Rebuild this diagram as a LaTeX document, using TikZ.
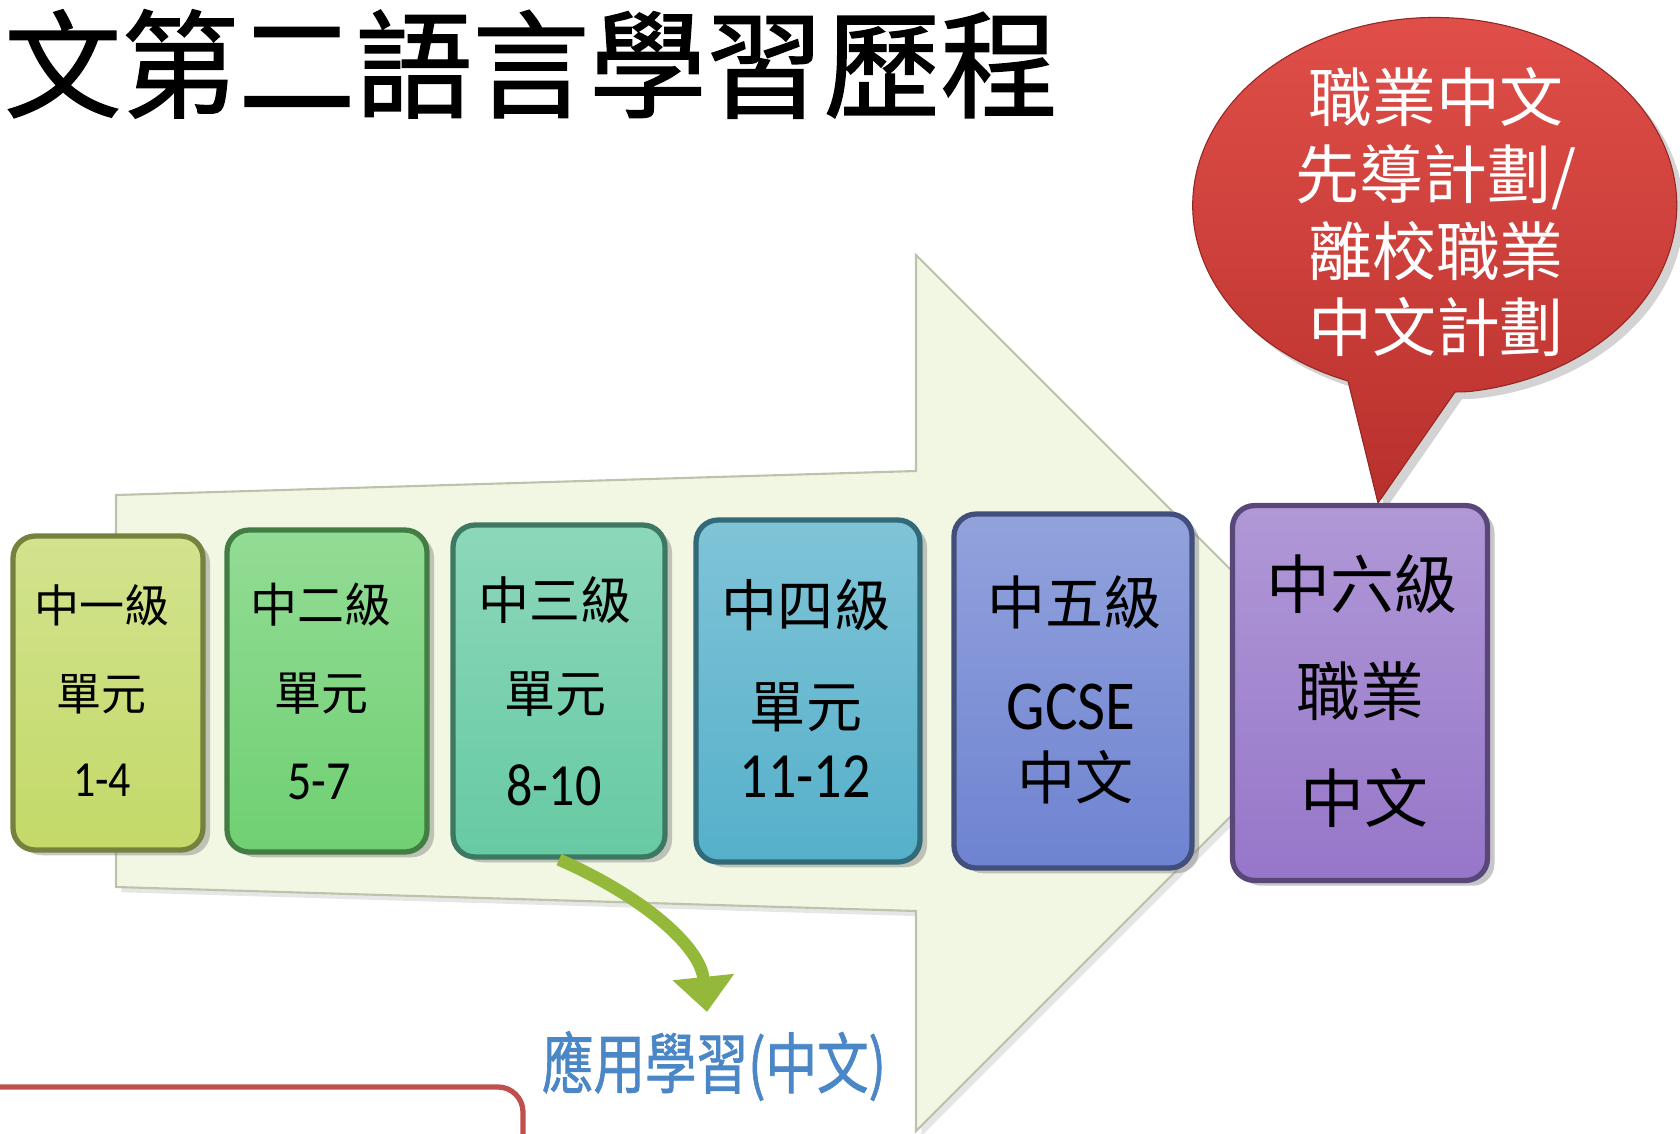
\documentclass[tikz,border=0pt]{standalone}
\usepackage{fontspec}
\usepackage{tikz}
\usetikzlibrary{shadows}
\usetikzlibrary{arrows.meta}
\newfontfamily\cjk{Noto Sans CJK TC}
\newfontfamily\cjkheavy[FakeBold=1.2]{Noto Sans CJK TC}
\newfontfamily\numfont{Carlito}
\definecolor{arrowpale}{HTML}{F2F7E3}
\definecolor{arrowedge}{HTML}{BCC3AA}
\definecolor{lvA}{HTML}{C3D968}
\definecolor{lvB}{HTML}{6FD072}
\definecolor{lvC}{HTML}{66CAA3}
\definecolor{lvD}{HTML}{55B0CA}
\definecolor{lvE}{HTML}{6E83D1}
\definecolor{lvF}{HTML}{9676C9}
\definecolor{bubtop}{HTML}{E2504A}
\definecolor{bubbot}{HTML}{B8302C}
\definecolor{applgreen}{HTML}{93B83A}
\definecolor{applblue}{HTML}{4B86C6}
\definecolor{framered}{HTML}{C0504D}
\tikzset{stagebox/.style={rounded corners=0.44cm, line width=3pt,
   drop shadow={shadow xshift=4pt, shadow yshift=-3pt, opacity=.45}},
 lvtext/.style={inner sep=0pt, text=black},
 bigarrow/.style={fill=arrowpale, draw=arrowedge, line width=1.2pt,
   drop shadow={shadow xshift=3pt, shadow yshift=-3pt, opacity=.2}},
 bubble/.style={top color=bubtop, bottom color=bubbot, draw=bubbot!80!black, line width=.6pt,
   drop shadow={shadow xshift=4pt, shadow yshift=-4pt, opacity=.35}},
 applarrow/.style={draw=applgreen, line width=7pt, -{Triangle[width=34pt, length=20pt]}},
 redframe/.style={draw=framered, line width=3pt, rounded corners=0.5cm},
}

\begin{document}
\begin{tikzpicture}[x=0.02cm, y=-0.02cm]
\useasboundingbox (0,0) rectangle (1680,1133);

% title
\node[anchor=west, inner sep=0pt, font=\cjkheavy\fontsize{66.6}{70}\selectfont] (title) at (4,64) {文第二語言學習歷程};

% big arrow
\draw[bigarrow] (116,495) -- (916,471) -- (916,255) -- (1354,693) -- (916,1131) -- (916,911) -- (116,887) -- cycle;

% speech bubble
\path[bubble] (1455,392) -- (1378,503) -- (1348,381) arc[start angle=111, end angle=442, x radius=242, y radius=188] -- cycle;
\node[align=center, inner sep=0pt, text=white, font=\cjk\fontsize{36.4}{43.8}\selectfont] (bubtext) at (1436,212)
  {職業中文\\先導計劃/\\離校職業\\中文計劃};

% stage boxes
\foreach \nm/\cx/\cy/\w/\h/\col in {g1/108/693/3.80/6.28/lvA, g2/327/691/4.00/6.44/lvB,
    g3/559/691/4.24/6.64/lvC, g4/808/691/4.48/6.84/lvD, g5/1073/691/4.76/7.08/lvE,
    g6/1360/693/5.10/7.50/lvF} {
  \node[stagebox, top color=\col!75!white, bottom color=\col, draw=\col!60!black,
    minimum width=\w cm, minimum height=\h cm] (\nm) at (\cx,\cy) {};
}

% applied learning arrow
\coordinate (apptip) at (707,1012);
\draw[applarrow] (g3.south) .. controls (640,895) and (700,945) .. (apptip);
\node[inner sep=0pt, text=applblue, font=\cjkheavy\fontsize{37.6}{40}\selectfont] (appl) at (714,1066)
  {\scalebox{0.78}[1]{應用學習(中文)}};

% box texts
\foreach \nm/\x/\y/\s/\t in {t1/102/605/25.6/中一級, t2/321/605/26.7/中二級, t3/555/600/29/中三級,
    t4/806/605/31.9/中四級, t5/1074/602/33/中五級, t6/1362/584/36.4/中六級,
    u1/101/694/25.6/單元, u2/321/694/26.7/單元, u3/555/694/29/單元,
    u4/806/707/31.9/單元, u6/1360/691/36.4/職業,
    w5/1075/777/33/中文, w6/1364/798/36.4/中文} {
  \node[lvtext, font=\cjk\fontsize{\s}{\s}\selectfont] (\nm) at (\x,\y) {\t};
}
\foreach \nm/\x/\y/\s/\t in {n1/102/780/25/1-4, n2/319/782/27.3/5-7, n3/554/785/29.6/8-10,
    n4/805/777/31.9/11-12, n5/1071/707/34.7/GCSE} {
  \node[lvtext, font=\numfont\fontsize{\s}{\s}\selectfont] (\nm) at (\x,\y) {\scalebox{1}[1.15]{\t}};
}

% frame at the bottom left
\draw[redframe] (-20,1087) -| (523,1170);
\end{tikzpicture}
\end{document}
